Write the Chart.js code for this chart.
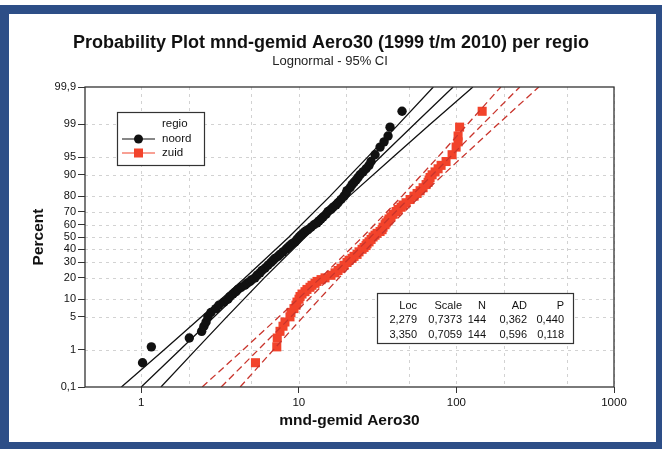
<!DOCTYPE html>
<html>
<head>
<meta charset="utf-8">
<script src="https://cdn.jsdelivr.net/npm/chart.js@4.4.1/dist/chart.umd.min.js"></script>
<style>
  html, body { margin: 0; padding: 0; background: #fff; }
  #wrap { width: 662px; height: 449px; position: relative; }
</style>
</head>
<body>
<div id="wrap"><canvas id="probPlot"></canvas></div>
<script>
// plotting positions (percent) shared by both groups, n = 144 (subset)
const rankPct = [0.48, 1.18, 1.87, 2.6, 3.3, 4, 5, 6, 7, 8,
  9, 10, 11, 12, 13, 14, 15, 16, 17, 18,
  19, 20, 21.5, 23, 24.5, 26, 28, 30, 31.5, 33,
  34.5, 36, 38, 40, 41.5, 43, 44.5, 46, 48, 50,
  51.5, 53, 54.5, 56, 58, 60, 61.5, 63, 64.5, 66,
  68, 70, 71.5, 73, 74.5, 76, 78, 80, 81.5, 83,
  84.5, 86, 87, 88, 89, 90, 91, 92, 93, 94,
  95.5, 96.8, 97.5, 98.13, 98.82, 99.52];
const noordVal = [1.02, 1.16, 2.02, 2.42, 2.50, 2.58, 2.65, 2.77, 2.98, 3.11,
  3.35, 3.55, 3.66, 3.82, 3.99, 4.11, 4.30, 4.55, 4.69, 4.90,
  5.04, 5.27, 5.43, 5.67, 5.84, 6.10, 6.37, 6.66, 6.86, 7.06,
  7.38, 7.60, 7.94, 8.29, 8.54, 8.79, 9.05, 9.46, 9.74, 10.03,
  10.33, 10.63, 10.95, 11.44, 11.95, 12.49, 13.05, 13.44, 13.84, 14.25,
  14.89, 15.33, 16.01, 16.49, 17.23, 17.74, 18.53, 19.37, 19.94, 20.23,
  21.14, 21.78, 22.41, 23.11, 23.76, 24.47, 25.56, 26.72, 27.91, 28.74,
  30.47, 32.78, 34.75, 36.84, 37.93, 45.2];
const zuidVal = [5.31, 7.25, 7.3, 7.60, 7.94, 8.17, 8.79, 8.92, 9.32, 9.60,
  9.74, 10.03, 10.18, 10.48, 10.95, 11.27, 11.78, 12.13, 12.67, 13.05,
  13.84, 14.67, 16.01, 16.98, 17.74, 18.53, 19.37, 20.23, 20.83, 21.77,
  22.41, 23.42, 24.11, 25.20, 25.94, 26.71, 27.10, 27.91, 28.74, 29.59,
  30.47, 31.37, 32.78, 33.76, 34.24, 35.27, 35.79, 36.84, 37.38, 38.50,
  39.64, 41.41, 42.64, 44.56, 45.87, 47.93, 50.82, 53.88, 56.31, 58.83,
  61.46, 64.23, 66.12, 67.10, 68.08, 70.13, 73.23, 76.54, 79.98, 86.0,
  93.9, 99.6, 102.5, 102.5, 104.8, 145.7];

// fitted line and 95% CI, read at these percents
const fitPct = [0.1, 1, 5, 20, 50, 80, 95, 99, 99.9];
const noordFit = [1.00, 1.758, 2.904, 5.25, 9.77, 18.17, 32.85, 54.27, 95.33];
const noordLow = [0.749, 1.394, 2.414, 4.563, 8.66, 15.79, 27.31, 43.04, 71.37];
const noordHigh = [1.335, 2.217, 3.493, 6.04, 11.02, 20.9, 39.52, 68.43, 127.3];
const zuidFit = [3.218, 5.519, 8.924, 15.73, 28.50, 51.65, 91.03, 147.2, 252.5];
const zuidLow = [2.439, 4.421, 7.478, 13.75, 25.40, 45.16, 76.28, 117.9, 191.4];
const zuidHigh = [4.245, 6.890, 10.65, 17.99, 31.98, 59.07, 108.6, 183.8, 333.1];

const xTicks = [1, 10, 100, 1000];
const xGrid = [2, 5, 20, 50, 200, 500];
const yTicks = [0.1, 1, 5, 10, 20, 30, 40, 50, 60, 70, 80, 90, 95, 99, 99.9];

const statHeaders = ['Loc', 'Scale', 'N', 'AD', 'P'];
const noordStats = ['2,279', '0,7373', '144', '0,362', '0,440'];
const zuidStats = ['3,350', '0,7059', '144', '0,596', '0,118'];

const TITLE = 'Probability Plot mnd-gemid Aero30 (1999 t/m 2010) per regio';
const SUBTITLE = 'Lognormal - 95% CI';

const FONT = '"Liberation Sans", Arial, sans-serif';
const RED = '#f2432b';
const RED_LINE = '#c9342c';

// inverse normal cdf (Acklam)
function probit(p) {
  const a = [-39.69683028665376, 220.9460984245205, -275.9285104469687, 138.3577518672690, -30.66479806614716, 2.506628277459239];
  const b = [-54.47609879822406, 161.5858368580409, -155.6989798598866, 66.80131188771972, -13.28068155288572];
  const c = [-0.007784894002430293, -0.3223964580411365, -2.400758277161838, -2.549732539343734, 4.374664141464968, 2.938163982698783];
  const d = [0.007784695709041462, 0.3224671290700398, 2.445134137142996, 3.754408661907416];
  const pl = 0.02425;
  if (p < pl) {
    const q = Math.sqrt(-2 * Math.log(p));
    return (((((c[0]*q+c[1])*q+c[2])*q+c[3])*q+c[4])*q+c[5]) / ((((d[0]*q+d[1])*q+d[2])*q+d[3])*q+1);
  }
  if (p > 1 - pl) {
    const q = Math.sqrt(-2 * Math.log(1 - p));
    return -(((((c[0]*q+c[1])*q+c[2])*q+c[3])*q+c[4])*q+c[5]) / ((((d[0]*q+d[1])*q+d[2])*q+d[3])*q+1);
  }
  const q = p - 0.5, r = q * q;
  return (((((a[0]*r+a[1])*r+a[2])*r+a[3])*r+a[4])*r+a[5])*q / (((((b[0]*r+b[1])*r+b[2])*r+b[3])*r+b[4])*r+1);
}

function normCdf(z) {
  const t = 1 / (1 + 0.2316419 * Math.abs(z));
  const y = 0.3989423 * Math.exp(-z * z / 2) * t * (0.3193815 + t * (-0.3565638 + t * (1.781478 + t * (-1.821256 + t * 1.330274))));
  return z > 0 ? 1 - y : y;
}

// probability (normal) axis for percent values
class ProbabilityScale extends Chart.Scale {
  determineDataLimits() {
    this.min = this.options.min;
    this.max = this.options.max;
  }
  buildTicks() {
    return yTicks.map(v => ({ value: v }));
  }
  configure() {
    super.configure();
    this._zStart = probit(this.min / 100);
    this._zRange = probit(this.max / 100) - this._zStart;
  }
  getPixelForValue(value) {
    return this.getPixelForDecimal((probit(value / 100) - this._zStart) / this._zRange);
  }
  getValueForPixel(pixel) {
    const z = this._zStart + this.getDecimalForPixel(pixel) * this._zRange;
    return normCdf(z) * 100;
  }
}
ProbabilityScale.id = 'probability';
ProbabilityScale.defaults = {};
Chart.register(ProbabilityScale);

function pairs(xs, ys) {
  return xs.map((x, i) => ({ x: x, y: ys[i] }));
}

function lineSet(vals, color, dash) {
  return {
    data: pairs(vals, fitPct), showLine: true, pointRadius: 0, borderColor: color,
    borderWidth: 1.3, borderDash: dash, fill: false, order: 0
  };
}

const frame = {
  id: 'frame',
  beforeDraw(chart) {
    const ctx = chart.ctx;
    ctx.save();
    ctx.fillStyle = '#fff';
    ctx.fillRect(0, 0, chart.width, chart.height);
    ctx.fillStyle = '#2d4e87';
    ctx.fillRect(0, 5, chart.width, 9);
    ctx.fillRect(0, 5, 9, chart.height);
    ctx.fillRect(chart.width - 6, 5, 6, chart.height);
    ctx.fillRect(0, chart.height - 7, chart.width, 7);

    // title block, centred on the page
    ctx.fillStyle = '#111';
    ctx.textAlign = 'center';
    ctx.textBaseline = 'middle';
    ctx.font = 'bold 18px ' + FONT;
    ctx.fillText(TITLE, 331, 43);
    ctx.fillStyle = '#222';
    ctx.font = '13px ' + FONT;
    ctx.fillText(SUBTITLE, 330, 61);
    ctx.restore();
  },
  beforeDatasetsDraw(chart) {
    const { ctx, chartArea: a, scales: { x, y } } = chart;
    ctx.save();
    ctx.strokeStyle = '#d2d2d2';
    ctx.lineWidth = 1;
    ctx.setLineDash([3, 4]);
    yTicks.slice(1, -1).forEach(v => {
      const py = Math.round(y.getPixelForValue(v)) + 0.5;
      ctx.beginPath(); ctx.moveTo(a.left, py); ctx.lineTo(a.right, py); ctx.stroke();
    });
    xTicks.concat(xGrid).forEach(v => {
      const px = Math.round(x.getPixelForValue(v)) + 0.5;
      ctx.beginPath(); ctx.moveTo(px, a.top); ctx.lineTo(px, a.bottom); ctx.stroke();
    });
    ctx.restore();
  },
  afterDraw(chart) {
    const { ctx, chartArea: a } = chart;
    ctx.save();
    ctx.strokeStyle = '#333';
    ctx.lineWidth = 1.3;
    ctx.strokeRect(a.left, a.top, a.right - a.left, a.bottom - a.top);

    // legend box
    ctx.fillStyle = '#fff';
    ctx.fillRect(117, 112, 87, 53);
    ctx.lineWidth = 1.2;
    ctx.strokeRect(117.5, 112.5, 87, 53);
    ctx.font = '11.5px ' + FONT;
    ctx.textBaseline = 'middle';
    ctx.fillStyle = '#111';
    ctx.fillText('regio', 162, 124);
    ctx.fillText('noord', 162, 139);
    ctx.fillText('zuid', 162, 153);
    ctx.strokeStyle = '#111';
    ctx.beginPath(); ctx.moveTo(122, 139); ctx.lineTo(155, 139); ctx.stroke();
    ctx.beginPath(); ctx.arc(138.5, 139, 4.5, 0, Math.PI * 2); ctx.fill();
    ctx.strokeStyle = RED;
    ctx.beginPath(); ctx.moveTo(122, 153); ctx.lineTo(155, 153); ctx.stroke();
    ctx.fillStyle = RED;
    ctx.fillRect(134, 148.5, 9, 9);

    // statistics table
    ctx.fillStyle = '#fff';
    ctx.fillRect(377, 293, 196, 50);
    ctx.strokeStyle = '#333';
    ctx.lineWidth = 1.2;
    ctx.strokeRect(377.5, 293.5, 196, 50);
    ctx.fillStyle = '#111';
    ctx.font = '11px ' + FONT;
    ctx.textAlign = 'right';
    const cols = [417, 462, 486, 527, 564];
    [statHeaders, noordStats, zuidStats].forEach((row, r) => {
      row.forEach((t, c) => ctx.fillText(t, cols[c], [306, 320, 335][r]));
    });
    ctx.restore();
  }
};

new Chart(document.getElementById('probPlot'), {
  type: 'scatter',
  data: {
    datasets: [
      lineSet(noordFit, '#111', []),
      lineSet(noordLow, '#111', []),
      lineSet(noordHigh, '#111', []),
      lineSet(zuidFit, RED_LINE, [7, 4]),
      lineSet(zuidLow, RED_LINE, [7, 4]),
      lineSet(zuidHigh, RED_LINE, [7, 4]),
      {
        label: 'noord', data: pairs(noordVal, rankPct), pointStyle: 'circle', pointRadius: 4.7,
        backgroundColor: '#111', borderColor: '#111', borderWidth: 0, order: 1
      },
      {
        label: 'zuid', data: pairs(zuidVal, rankPct), pointStyle: 'rect', pointRadius: 6.4,
        backgroundColor: RED, borderColor: RED, borderWidth: 0, order: 1
      }
    ]
  },
  options: {
    responsive: true,
    maintainAspectRatio: false,
    animation: false,
    devicePixelRatio: 1,
    layout: { padding: { left: 10, right: 48, top: 87, bottom: 10 } },
    plugins: {
      legend: { display: false },
      tooltip: { enabled: false },
      title: { display: false }
    },
    scales: {
      x: {
        type: 'logarithmic',
        min: 0.44,
        max: 1000,
        afterBuildTicks: s => { s.ticks = xTicks.map(v => ({ value: v })); },
        afterFit: s => { s.height = 52; },
        ticks: {
          color: '#111', padding: 3, maxRotation: 0, autoSkip: false,
          font: { family: FONT, size: 11.5 },
          callback: v => String(v)
        },
        grid: { drawOnChartArea: false, tickLength: 6, tickColor: '#333', color: '#333' },
        border: { display: false },
        title: {
          display: true, text: 'mnd-gemid Aero30', color: '#111',
          font: { family: FONT, size: 15.5, weight: 'bold', lineHeight: 1.2 },
          padding: { top: 0, bottom: 9 }
        }
      },
      y: {
        type: 'probability',
        min: 0.1,
        max: 99.9,
        afterFit: s => { s.width = 75; },
        ticks: {
          color: '#111', padding: 2, autoSkip: false,
          font: { family: FONT, size: 11 },
          callback: v => String(v).replace('.', ',')
        },
        grid: { drawOnChartArea: false, tickLength: 7, tickColor: '#333', color: '#333' },
        border: { display: false },
        title: {
          display: true, text: 'Percent', color: '#111',
          font: { family: FONT, size: 15.5, weight: 'bold', lineHeight: 1.2 },
          padding: { top: 19, bottom: 0 }
        }
      }
    }
  },
  plugins: [frame]
});
</script>
</body>
</html>
